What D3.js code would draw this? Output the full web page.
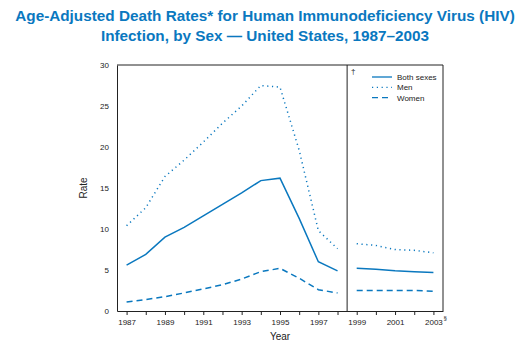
<!DOCTYPE html>
<html>
<head>
<meta charset="utf-8">
<script src="https://cdn.jsdelivr.net/npm/d3@7"></script>
<style>
  body { margin: 0; background: #fff; }
  text { font-family: "Liberation Sans", Arial, sans-serif; }
</style>
</head>
<body>
<svg id="chart" width="531" height="350"></svg>
<script>
// data
const years = [1987, 1988, 1989, 1990, 1991, 1992, 1993, 1994, 1995, 1996, 1997, 1998,
               1999, 2000, 2001, 2002, 2003];
const bothSexes = [5.6, 6.9, 9.0, 10.2, 11.6, 13.0, 14.4, 15.9, 16.2, 11.3, 6.0, 4.9,
                   5.2, 5.1, 4.9, 4.8, 4.7];
const men = [10.4, 12.6, 16.4, 18.4, 20.6, 22.9, 25.0, 27.5, 27.3, 19.6, 9.8, 7.6,
             8.2, 8.0, 7.5, 7.4, 7.1];
const women = [1.1, 1.4, 1.75, 2.2, 2.7, 3.2, 3.9, 4.8, 5.2, 4.0, 2.6, 2.2,
               2.5, 2.5, 2.5, 2.5, 2.4];
const yTicks = [0, 5, 10, 15, 20, 25, 30];
const xLabels = [1987, 1989, 1991, 1993, 1995, 1997, 1999, 2001, 2003];
const breakYear = 1998.5; // ICD-9 -> ICD-10 break

const blue = "#0a78bf";

const svg = d3.select("#chart");
const margin = {left: 117, right: 88, top: 65, bottom: 39};
const plotW = 531 - margin.left - margin.right;
const plotH = 350 - margin.top - margin.bottom;

const g = svg.append("g").attr("transform", `translate(${margin.left},${margin.top})`);

// title
const title = svg.append("text")
    .attr("x", 265).attr("text-anchor", "middle")
    .attr("fill", blue).attr("font-weight", "bold").attr("font-size", 15.3);
title.append("tspan").attr("x", 265).attr("y", 21)
    .text("Age-Adjusted Death Rates* for Human Immunodeficiency Virus (HIV)");
title.append("tspan").attr("x", 265).attr("y", 41)
    .text("Infection, by Sex \u2014 United States, 1987\u20132003");

const xScale = d3.scaleLinear().domain([1986.5, 2003.5]).range([0, plotW]);
const yScale = d3.scaleLinear().domain([0, 30]).range([plotH, 0]);

// axes
const xAxis = g.append("g").attr("transform", `translate(0,${plotH})`)
    .call(d3.axisBottom(xScale)
        .tickValues(years)
        .tickSize(4)
        .tickSizeOuter(0)
        .tickFormat(d => xLabels.includes(d) ? d : ""));
const yAxis = g.append("g")
    .call(d3.axisLeft(yScale).tickValues(yTicks).tickSize(0).tickPadding(8).tickSizeOuter(0));

[xAxis, yAxis].forEach(a => {
    a.select(".domain").attr("stroke", "#222");
    a.selectAll(".tick line").attr("stroke", "#222");
    a.selectAll("text").attr("font-size", 8).attr("fill", "#222")
        .attr("font-family", "Liberation Sans, Arial, sans-serif");
});
xAxis.selectAll("text").attr("dy", "0.9em");

// frame: top, right and break line
g.append("line").attr("x1", 0).attr("x2", plotW).attr("y1", 0).attr("y2", 0).attr("stroke", "#222");
g.append("line").attr("x1", plotW).attr("x2", plotW).attr("y1", 0).attr("y2", plotH).attr("stroke", "#222");
g.append("line")
    .attr("x1", xScale(breakYear)).attr("x2", xScale(breakYear))
    .attr("y1", 0).attr("y2", plotH).attr("stroke", "#222");

g.append("text").attr("x", xScale(breakYear) + 4).attr("y", 9)
    .attr("font-size", 8).attr("fill", "#222").text("\u2020");
g.append("text").attr("x", xScale(2003) + 10).attr("y", plotH + 9)
    .attr("font-size", 6).attr("fill", "#222").text("\u00a7");

// lines, split at the break
const line = d3.line().x(d => xScale(d.x)).y(d => yScale(d.y));
const series = [
    {name: "Both sexes", values: bothSexes, dash: null},
    {name: "Men", values: men, dash: "1.2,3.6"},
    {name: "Women", values: women, dash: "6,4"}
];
series.forEach(s => {
    const pts = years.map((x, i) => ({x, y: s.values[i]}));
    [pts.filter(d => d.x < breakYear), pts.filter(d => d.x > breakYear)].forEach(part => {
        g.append("path").datum(part)
            .attr("fill", "none")
            .attr("stroke", blue)
            .attr("stroke-width", 1.5)
            .attr("stroke-dasharray", s.dash)
            .attr("d", line);
    });
});

// axis labels
g.append("text")
    .attr("x", xScale(1995)).attr("y", plotH + 29)
    .attr("text-anchor", "middle").attr("font-size", 10).attr("fill", "#222")
    .text("Year");
g.append("text")
    .attr("x", -(yScale(15)) ).attr("y", -30)
    .attr("transform", "rotate(-90)")
    .attr("text-anchor", "middle").attr("font-size", 10).attr("fill", "#222")
    .text("Rate");

// legend
const legend = g.append("g").attr("transform", `translate(${372 - margin.left}, ${77 - margin.top})`);
series.forEach((s, i) => {
    legend.append("line")
        .attr("x1", 0).attr("x2", 20).attr("y1", i * 10.3).attr("y2", i * 10.3)
        .attr("stroke", blue).attr("stroke-width", 1.3)
        .attr("stroke-dasharray", s.dash);
    legend.append("text")
        .attr("x", 25).attr("y", i * 10.3 + 3)
        .attr("font-size", 8).attr("fill", "#222")
        .text(s.name);
});
</script>
</body>
</html>
